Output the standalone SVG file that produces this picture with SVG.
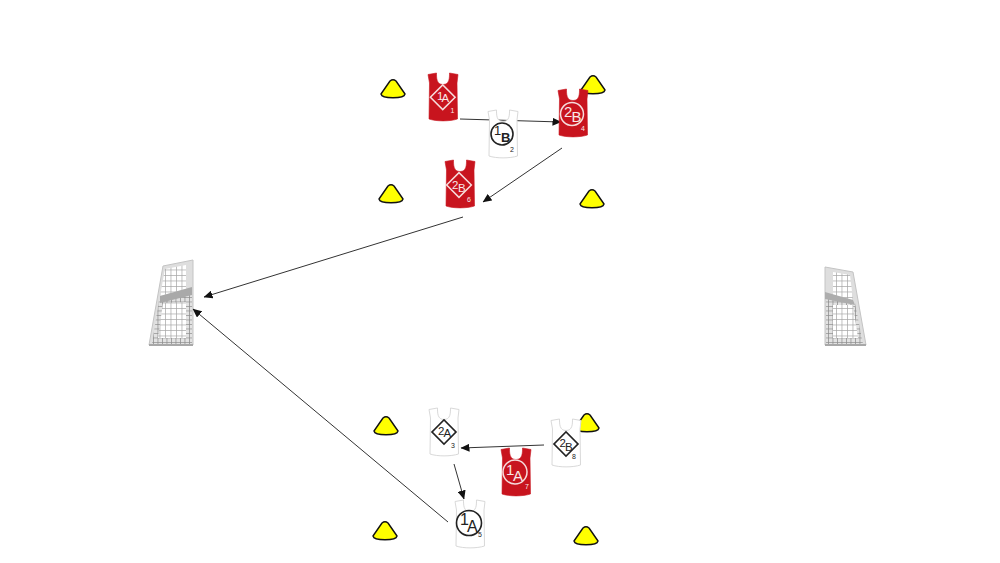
<svg xmlns="http://www.w3.org/2000/svg" width="1000" height="563" viewBox="0 0 1000 563">
<style>
.t{font-family:"Liberation Sans",Arial,sans-serif}
.red{fill:#c8141e;stroke:#c8141e;stroke-width:.6}
.wht{fill:#fff;stroke:#d9d9d9;stroke-width:1}
.mw{fill:none;stroke:#f6dcdc;stroke-width:1.5}
.mk{fill:none;stroke:#222;stroke-width:1.6}
.lw{fill:#f8e8e8}
.lk{fill:#222}
.d{font-size:11.500px}
.c{font-size:15px}
.n{font-size:7px;text-anchor:middle}
.cn{stroke:#333;stroke-width:1;fill:none;marker-end:url(#ah)}
.gf{fill:#dedede;stroke:#c4c4c4;stroke-width:1}
.gl{stroke:#a8a8a8;stroke-width:2;fill:none}
</style>
<defs>
<marker id="ah" markerUnits="userSpaceOnUse" markerWidth="9" markerHeight="8" refX="8.500" refY="4" orient="auto"><path d="M0,0 L9,4 L0,8 Z" fill="#111"/></marker>
<path id="bib" d="M0,1.500 L8.500,0 C8.500,5 8.500,11.500 15,11.500 C21.500,11.500 21.500,5 21.500,0 L30,1.500 L29,10 L29.500,46 C22,48.500 8,48.500 1,46 L1.500,10 Z"/>
<path id="cone" d="M-12,5 L-3,-8 Q0,-10.500 3,-8 L12,5 C11,10 -11,10 -12,5 Z" fill="#ffff00" stroke="#111" stroke-width="1.400" stroke-linejoin="round"/>
<pattern id="mesh" width="5.500" height="5.500" patternUnits="userSpaceOnUse"><rect width="5.500" height="5.500" fill="#fff"/><path d="M0,0H5.500M0,0V5.500" stroke="#a6a6a6" stroke-width="1.400"/></pattern>
<pattern id="meshd" width="4.500" height="4.500" patternUnits="userSpaceOnUse"><rect width="4.500" height="4.500" fill="#e2e2e2"/><path d="M0,0H4.500M0,0V4.500" stroke="#8e8e8e" stroke-width="1.500"/></pattern>
</defs>

<g id="cone1"><use href="#cone" x="393" y="89"/></g>
<g id="cone2"><use href="#cone" x="593" y="85"/></g>
<g id="cone3"><use href="#cone" x="391" y="194"/></g>
<g id="cone4"><use href="#cone" x="592" y="199"/></g>
<g id="cone5"><use href="#cone" x="386" y="426"/></g>
<g id="cone6"><use href="#cone" x="587" y="423"/></g>
<g id="cone7"><use href="#cone" x="385" y="531"/></g>
<g id="cone8"><use href="#cone" x="586" y="536"/></g>

<g id="goal-left">
<path class="gf" d="M149,345 L163,266 L193,260 L193,345 Z"/>
<path d="M165,269 L186,265 L186,289 L160,296 Z" fill="url(#mesh)"/>
<path d="M152,344 L159,300 L192,291 L192,344 Z" fill="url(#meshd)"/>
<path d="M160,296 L192,287 L192,295 L160,303 Z" fill="#a9a9a9"/>
<path d="M163,303 L186,302 L186,338 L158,338 Z" fill="url(#mesh)"/>
<path class="gl" d="M149,345 H193"/>
</g>
<g id="goal-right">
<path class="gf" d="M825,267 L853,272 L866,345 L825,345 Z"/>
<path d="M833,272 L850,275 L853,300 L833,295 Z" fill="url(#mesh)"/>
<path d="M826,296 L855,303 L863,344 L826,344 Z" fill="url(#meshd)"/>
<path d="M825,292 L853,300 L855,305 L825,299 Z" fill="#adadad"/>
<path d="M833,305 L853,305 L858,338 L833,338 Z" fill="url(#mesh)"/>
<path class="gl" d="M825,345 H866"/>
</g>

<g id="connectors">
<path class="cn" d="M460,119 L561,122"/>
<path class="cn" d="M562,148 L483,202"/>
<path class="cn" d="M463,217 L204,297"/>
<path class="cn" d="M448,522 L193,309"/>
<path class="cn" d="M544,445 L461,448"/>
<path class="cn" d="M454,464 L464,499"/>
</g>

<g id="bib1"><use href="#bib" class="red" x="428" y="73"/><rect class="mw" x="434" y="88.500" width="17.500" height="17.500" transform="rotate(45 442.750 97.250)"/><text class="t lw d" x="437" y="100">1</text><text class="t lw d" x="441.500" y="102">A</text><text class="t lw n" x="452.500" y="113">1</text></g>
<g id="bib2"><use href="#bib" class="wht" x="488" y="110"/><circle class="mk" cx="502" cy="134" r="11"/><text class="t lk d" x="494" y="135" style="font-size:13px">1</text><text class="t lk d" x="501" y="142" style="font-size:13px;font-weight:bold">B</text><text class="t lk n" x="512" y="152">2</text></g>
<g id="bib4"><use href="#bib" class="red" x="558" y="89"/><circle class="mw" cx="572" cy="114" r="11.500"/><text class="t lw c" x="564" y="117">2</text><text class="t lw c" x="571.500" y="122">B</text><text class="t lw n" x="583" y="131">4</text></g>
<g id="bib6"><use href="#bib" class="red" x="445" y="160"/><rect class="mw" x="450.250" y="176.250" width="17.500" height="17.500" transform="rotate(45 459 185)"/><text class="t lw d" x="452" y="188.500">2</text><text class="t lw d" x="458" y="192">B</text><text class="t lw n" x="469" y="202">6</text></g>
<g id="bib3"><use href="#bib" class="wht" x="429" y="408"/><rect class="mk" x="435.500" y="423.500" width="17" height="17" transform="rotate(45 444 432)"/><text class="t lk d" x="438" y="435">2</text><text class="t lk d" x="443.500" y="437">A</text><text class="t lk n" x="453" y="448">3</text></g>
<g id="bib8"><use href="#bib" class="wht" x="551" y="419"/><rect class="mk" x="557.500" y="435.500" width="17" height="17" transform="rotate(45 566 444)"/><text class="t lk d" x="559.500" y="447">2</text><text class="t lk d" x="565" y="451">B</text><text class="t lk n" x="574" y="459">8</text></g>
<g id="bib7"><use href="#bib" class="red" x="501" y="448"/><circle class="mw" cx="515" cy="472" r="12"/><text class="t lw c" x="506" y="475">1</text><text class="t lw c" x="513" y="481">A</text><text class="t lw n" x="527" y="489">7</text></g>
<g id="bib5"><use href="#bib" class="wht" x="455" y="500"/><circle class="mk" cx="469" cy="523" r="12.500"/><text class="t lk c" x="460" y="525" style="font-size:16px">1</text><text class="t lk c" x="467" y="532" style="font-size:16px">A</text><text class="t lk n" x="480" y="537">5</text></g>
</svg>
